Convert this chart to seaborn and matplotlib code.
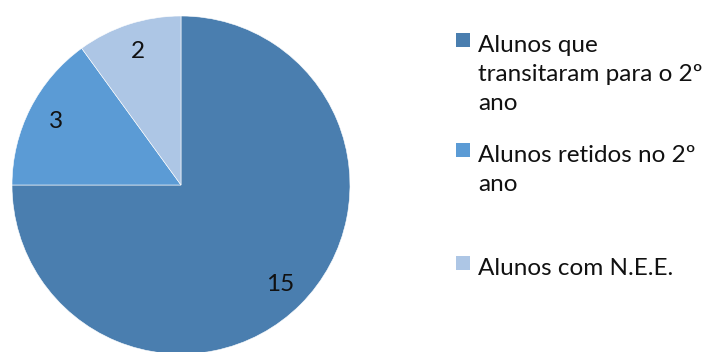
import matplotlib
matplotlib.use("Agg")
import matplotlib.pyplot as plt
from matplotlib.patches import Rectangle
import seaborn as sns

# Student outcomes in the 2nd year
categories = ["Alunos que\ntransitaram para o 2º\nano",
              "Alunos retidos no 2º\nano",
              "Alunos com N.E.E."]
values = [15, 3, 2]
colors = ["#4A7EAF", "#5B9BD5", "#ADC6E5"]

sns.set_theme(style="white")
plt.rcParams["font.family"] = ["Lato", "DejaVu Sans"]

W, H = 712, 352
fig = plt.figure(figsize=(W / 100, H / 100), dpi=100)

# pie axes: centre (181, 185) px, radius 169 px
cx, cy, r = 181, 185, 169
ax = fig.add_axes([(cx - r) / W, (H - cy - r) / H, 2 * r / W, 2 * r / H])
wedges, texts = ax.pie(values, colors=colors, startangle=90, counterclock=False,
                       labels=[str(v) for v in values], labeldistance=0.83,
                       radius=1.0,
                       wedgeprops=dict(edgecolor="white", linewidth=0.4),
                       textprops=dict(fontsize=17.5, color="#111111"))
for t in texts:
    t.set_ha("center")
    t.set_va("center")
ax.set_xlim(-1, 1)
ax.set_ylim(-1, 1)
ax.set_aspect("equal")
ax.axis("off")
for w in wedges:
    w.set_clip_on(False)

# legend entries: square marker aligned with the first text line
entry_tops = [33, 143, 256]
line_gap = 29
for label, color, top in zip(categories, colors, entry_tops):
    fig.patches.append(Rectangle((456 / W, 1 - (top + 14) / H), 14 / W, 14 / H,
                                 transform=fig.transFigure, facecolor=color,
                                 edgecolor="none"))
    for i, line in enumerate(label.split("\n")):
        baseline = top + 19 + i * line_gap
        fig.text(478 / W, 1 - baseline / H, line, fontsize=17.5, color="#111111",
                 ha="left", va="baseline")

fig.savefig("out.png", dpi=100, facecolor="white")
